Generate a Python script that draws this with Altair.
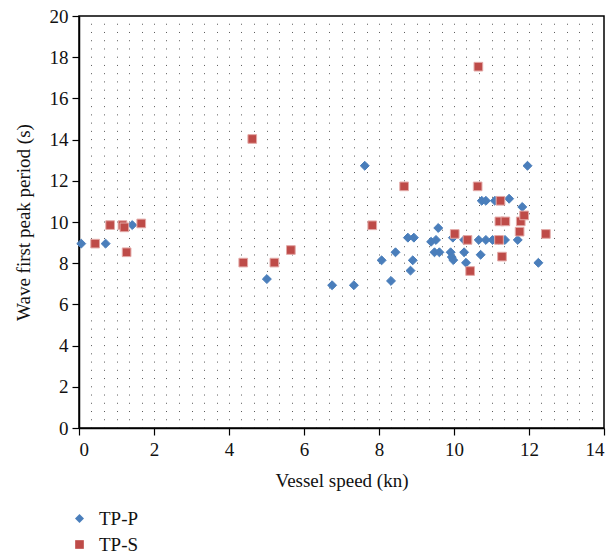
import altair as alt
import pandas as pd
import numpy as np

# TP-P (blue diamonds)
p_speed = [0.06, 0.71, 1.42, 5.01, 6.75, 7.33, 7.62, 8.07, 8.32, 8.44, 8.77, 8.93, 8.90, 8.84,
           9.39, 9.52, 9.48, 9.61, 9.58, 9.91, 9.97, 9.94, 9.98, 10.27, 10.27, 10.32, 10.66,
           10.71, 10.74, 10.85, 10.85, 11.03, 11.09, 11.20, 11.36, 11.47, 11.70, 11.82, 11.96, 12.25]
p_period = [8.95, 8.95, 9.85, 7.23, 6.93, 6.93, 12.73, 8.14, 7.14, 8.53, 9.24, 9.24, 8.14, 7.64,
            9.04, 9.13, 8.53, 8.53, 9.71, 8.53, 9.24, 8.30, 8.15, 9.13, 8.53, 8.02, 9.13,
            8.41, 11.03, 11.03, 9.13, 9.13, 11.03, 9.13, 9.13, 11.13, 9.13, 10.73, 12.73, 8.02]

# TP-S (red squares)
s_speed = [0.43, 0.83, 1.16, 1.21, 1.27, 1.66, 4.38, 4.62, 5.21, 5.65, 7.82, 8.67, 10.02,
           10.36, 10.43, 10.63, 10.65, 11.20, 11.21, 11.24, 11.28, 11.37, 11.75, 11.78, 11.87, 12.45]
s_period = [8.95, 9.85, 9.85, 9.74, 8.53, 9.93, 8.03, 14.03, 8.03, 8.64, 9.84, 11.73, 9.42,
            9.13, 7.62, 11.73, 17.54, 9.13, 10.03, 11.03, 8.32, 10.03, 9.53, 10.03, 10.32, 9.42]

series = ["TP-P", "TP-S"]
x_ticks = [0, 2, 4, 6, 8, 10, 12, 14]
y_ticks = [0, 2, 4, 6, 8, 10, 12, 14, 16, 18, 20]
grid_x = [round(i / 3, 4) for i in range(1, 42)]

df = pd.DataFrame({
    "speed": p_speed + s_speed,
    "period": p_period + s_period,
    "series": ["TP-P"] * len(p_speed) + ["TP-S"] * len(s_speed),
})

FONT = "Liberation Serif"
xscale = alt.Scale(domain=[0, 14], nice=False, zero=False)
yscale = alt.Scale(domain=[0, 20], nice=False, zero=False)

y_axis = alt.Axis(values=y_ticks, grid=False, title="Wave first peak period (s)",
                  tickSize=7, labelPadding=4, titlePadding=16)

grid = alt.Chart(df).mark_point(opacity=0).encode(
    x=alt.X("speed:Q", scale=xscale,
            axis=alt.Axis(orient="top", values=grid_x, grid=True, labels=False, ticks=False,
                          domain=False, title=None, gridColor="#222222", gridWidth=1,
                          gridDash=[1, 7.24], gridOpacity=0.75)),
    y=alt.Y("period:Q", scale=yscale, axis=y_axis),
)

legend = alt.Legend(title=None, orient="none", legendX=-9, legendY=493,
                    direction="vertical", symbolSize=45, rowPadding=6, padding=0,
                    labelOffset=10, symbolStrokeWidth=0)

points = alt.Chart(df).mark_point(filled=True, opacity=1, strokeWidth=1).encode(
    x=alt.X("speed:Q", scale=xscale,
            axis=alt.Axis(values=x_ticks, grid=False, title="Vessel speed (kn)",
                          tickSize=7, labelPadding=5, titlePadding=12)),
    y=alt.Y("period:Q", scale=yscale, axis=y_axis),
    color=alt.Color("series:N", scale=alt.Scale(domain=series, range=["#4A7EBB", "#BE4B48"]),
                    legend=legend),
    shape=alt.Shape("series:N", scale=alt.Scale(domain=series, range=["diamond", "square"]),
                    legend=legend),
    stroke=alt.Stroke("series:N", scale=alt.Scale(domain=series, range=["#4A7EBB", "#E3A9A7"]),
                      legend=None),
    size=alt.Size("series:N", scale=alt.Scale(domain=series, range=[80, 75]), legend=None),
)

chart = alt.layer(grid, points).resolve_axis(x="independent").properties(
    width=525, height=412,
    background="white",
    autosize=alt.AutoSizeParams(type="none"),
    padding={"left": 79, "top": 16, "right": 11, "bottom": 127},
).configure_view(
    stroke="#000000", strokeWidth=1.5
).configure_axis(
    labelFont=FONT, titleFont=FONT, labelFontSize=19, titleFontSize=19,
    labelColor="#111111", titleColor="#111111", titleFontWeight="normal",
    domainColor="#000000", tickColor="#000000", domainWidth=1.5, tickWidth=1.2,
).configure_legend(
    labelFont=FONT, labelFontSize=19, labelColor="#111111", labelFontWeight="normal",
)

chart.save("out.html", embed_options={"renderer": "svg", "actions": False})
